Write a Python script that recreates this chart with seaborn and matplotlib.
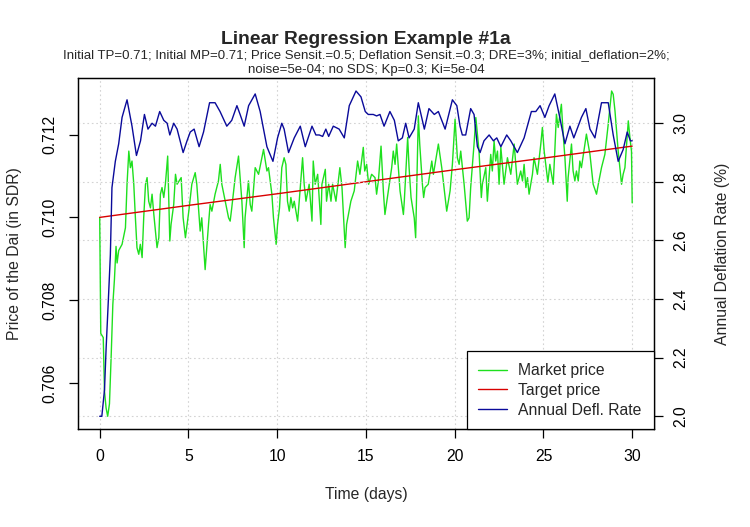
import matplotlib
matplotlib.use("Agg")
import matplotlib.pyplot as plt
import seaborn as sns
import pandas as pd

sns.set_style("ticks")
plt.rcParams['font.family'] = ['Liberation Sans', 'DejaVu Sans']

# ---------------- data ----------------
market_days = [
    0.00, 0.06, 0.20, 0.27, 0.36, 0.45, 0.55, 0.65, 0.74, 0.83,
    0.92, 0.98, 1.07, 1.26, 1.45, 1.54, 1.64, 1.73, 1.82, 1.92,
    2.01, 2.10, 2.20, 2.29, 2.39, 2.48, 2.58, 2.67, 2.76, 2.86,
    2.95, 3.05, 3.14, 3.23, 3.33, 3.42, 3.51, 3.61, 3.70, 3.83,
    3.95, 4.02, 4.17, 4.27, 4.36, 4.59, 4.70, 4.83, 5.02, 5.19,
    5.38, 5.47, 5.66, 5.75, 5.94, 6.13, 6.22, 6.32, 6.50, 6.69,
    6.79, 6.88, 7.07, 7.26, 7.35, 7.44, 7.63, 7.82, 7.91, 8.01,
    8.14, 8.19, 8.38, 8.48, 8.57, 8.76, 8.95, 9.23, 9.42, 9.51,
    9.70, 9.79, 9.94, 10.02, 10.13, 10.26, 10.39, 10.49, 10.58, 10.68,
    10.77, 10.87, 10.96, 11.15, 11.24, 11.43, 11.52, 11.62, 11.80, 11.96,
    12.03, 12.14, 12.28, 12.46, 12.52, 12.71, 12.78, 12.90, 13.03, 13.12,
    13.31, 13.53, 13.65, 13.83, 13.91, 14.15, 14.34, 14.53, 14.66, 14.85,
    14.93, 15.04, 15.15, 15.32, 15.51, 15.60, 15.70, 15.85, 15.98, 16.07,
    16.26, 16.45, 16.54, 16.64, 16.73, 16.92, 17.11, 17.16, 17.35, 17.43,
    17.54, 17.72, 17.80, 17.88, 17.95, 18.03, 18.18, 18.25, 18.33, 18.51,
    18.71, 18.80, 19.08, 19.27, 19.55, 19.74, 19.87, 20.02, 20.15, 20.25,
    20.34, 20.53, 20.71, 20.81, 20.90, 21.09, 21.19, 21.28, 21.37, 21.50,
    21.56, 21.75, 21.84, 22.03, 22.12, 22.22, 22.31, 22.41, 22.50, 22.60,
    22.78, 22.97, 23.16, 23.35, 23.53, 23.72, 23.82, 23.91, 24.01, 24.10,
    24.19, 24.38, 24.47, 24.66, 24.85, 24.94, 25.04, 25.13, 25.25, 25.36,
    25.55, 25.64, 25.73, 25.83, 26.01, 26.11, 26.21, 26.34, 26.39, 26.58,
    26.67, 26.77, 26.86, 26.96, 27.05, 27.14, 27.42, 27.62, 27.80, 27.99,
    28.09, 28.27, 28.46, 28.65, 28.84, 28.93, 29.03, 29.21, 29.40, 29.49,
    29.59, 29.78, 29.87, 29.96, 30.00,
]
market_price = [
    0.71000, 0.70720, 0.70710, 0.70580, 0.70540, 0.70520, 0.70550, 0.70670, 0.70790, 0.70850,
    0.70930, 0.70890, 0.70920, 0.70935, 0.70975, 0.71080, 0.71160, 0.71120, 0.71136, 0.71080,
    0.71000, 0.70927, 0.70911, 0.70935, 0.70903, 0.71000, 0.71080, 0.71096, 0.71039, 0.71023,
    0.71056, 0.71007, 0.70967, 0.70927, 0.70951, 0.71056, 0.71072, 0.71048, 0.71080, 0.71148,
    0.70943, 0.70983, 0.71031, 0.71104, 0.71080, 0.71096, 0.70999, 0.70951, 0.71015, 0.71080,
    0.71108, 0.71080, 0.70967, 0.70999, 0.70874, 0.70983, 0.71031, 0.71015, 0.71056, 0.71088,
    0.71128, 0.71080, 0.71039, 0.70999, 0.70991, 0.71023, 0.71096, 0.71148, 0.71096, 0.71039,
    0.70927, 0.70999, 0.71088, 0.71031, 0.71015, 0.71120, 0.71104, 0.71164, 0.71112, 0.71120,
    0.71056, 0.70999, 0.70935, 0.70983, 0.71023, 0.71120, 0.71144, 0.71128, 0.71039, 0.71015,
    0.71048, 0.71023, 0.71039, 0.70991, 0.71039, 0.71144, 0.71080, 0.71039, 0.71080, 0.70991,
    0.71136, 0.71080, 0.71104, 0.70983, 0.71080, 0.71116, 0.71039, 0.71080, 0.71039, 0.71080,
    0.71039, 0.71120, 0.71072, 0.70927, 0.70983, 0.71039, 0.71064, 0.71136, 0.71104, 0.71169,
    0.71112, 0.71128, 0.71080, 0.71104, 0.71096, 0.71056, 0.71088, 0.71172, 0.71064, 0.71007,
    0.71064, 0.71120, 0.71160, 0.71128, 0.71177, 0.71064, 0.71007, 0.71039, 0.71193, 0.71120,
    0.71048, 0.70999, 0.70951, 0.71112, 0.71245, 0.71177, 0.71080, 0.71048, 0.71072, 0.71080,
    0.71136, 0.71104, 0.71177, 0.71120, 0.71015, 0.71064, 0.71128, 0.71237, 0.71144, 0.71128,
    0.71160, 0.71080, 0.70991, 0.70999, 0.71072, 0.71177, 0.71241, 0.71201, 0.71160, 0.71048,
    0.71080, 0.71120, 0.71039, 0.71152, 0.71112, 0.71184, 0.71136, 0.71160, 0.71080, 0.71169,
    0.71080, 0.71144, 0.71104, 0.71177, 0.71080, 0.71112, 0.71088, 0.71128, 0.71072, 0.71096,
    0.71056, 0.71104, 0.71144, 0.71104, 0.71177, 0.71217, 0.71160, 0.71128, 0.71085, 0.71128,
    0.71080, 0.71160, 0.71249, 0.71217, 0.71273, 0.71201, 0.71144, 0.71039, 0.71096, 0.71177,
    0.71112, 0.71088, 0.71112, 0.71088, 0.71136, 0.71120, 0.71201, 0.71152, 0.71080, 0.71056,
    0.71080, 0.71120, 0.71152, 0.71225, 0.71305, 0.71297, 0.71257, 0.71160, 0.71080, 0.71104,
    0.71120, 0.71233, 0.71193, 0.71160, 0.71035,
]

target_days = [0, 5, 10, 15, 20, 25, 30]
target_price = [0.71000, 0.71029, 0.71057, 0.71086, 0.71115, 0.71143, 0.71172]

defl_days = [
    0.00, 0.12, 0.27, 0.36, 0.49, 0.60, 0.69, 0.88, 1.07, 1.26,
    1.54, 1.82, 2.07, 2.30, 2.52, 2.72, 2.95, 3.14, 3.38, 3.61,
    3.80, 3.95, 4.17, 4.36, 4.70, 4.92, 5.10, 5.32, 5.60, 5.85,
    6.19, 6.50, 6.78, 7.16, 7.44, 7.73, 7.91, 8.14, 8.39, 8.76,
    9.04, 9.42, 9.76, 10.02, 10.26, 10.39, 10.64, 10.96, 11.30, 11.58,
    11.96, 12.18, 12.37, 12.56, 12.74, 12.90, 13.16, 13.49, 13.78, 14.06,
    14.44, 14.72, 14.96, 15.13, 15.41, 15.60, 15.79, 16.02, 16.35, 16.60,
    16.82, 17.05, 17.24, 17.43, 17.72, 17.95, 18.14, 18.29, 18.55, 18.85,
    19.08, 19.46, 19.87, 20.12, 20.30, 20.43, 20.62, 20.90, 21.09, 21.28,
    21.43, 21.65, 21.94, 22.18, 22.37, 22.60, 22.93, 23.16, 23.53, 23.91,
    24.32, 24.57, 24.81, 25.08, 25.32, 25.64, 25.92, 26.21, 26.49, 26.71,
    27.14, 27.39, 27.62, 27.90, 28.27, 28.65, 28.93, 29.21, 29.49, 29.72,
    29.90, 30.00,
]
defl_rate = [
    2.00, 2.00, 2.09, 2.23, 2.40, 2.55, 2.78, 2.87, 2.93, 3.02,
    3.08, 2.99, 2.89, 2.94, 3.03, 2.98, 3.00, 2.99, 3.04, 3.01,
    3.00, 2.96, 3.00, 2.98, 2.90, 2.94, 2.97, 2.98, 2.92, 2.97,
    3.07, 3.07, 3.04, 2.99, 3.01, 3.06, 3.03, 2.99, 3.06, 3.10,
    3.04, 2.92, 2.87, 2.95, 3.00, 2.98, 2.90, 2.95, 2.99, 2.92,
    2.99, 2.96, 2.96, 2.955, 2.98, 2.955, 2.99, 2.98, 2.95, 3.06,
    3.11, 3.09, 3.04, 3.03, 3.03, 3.025, 3.03, 2.99, 3.04, 3.01,
    2.94, 2.95, 3.00, 2.95, 2.98, 3.07, 3.02, 2.98, 3.05, 3.03,
    3.04, 2.98, 3.08, 3.06, 2.99, 2.96, 2.96, 3.05, 3.03, 2.92,
    2.90, 2.94, 2.96, 2.94, 2.95, 2.92, 2.96, 2.94, 2.90, 2.95,
    3.04, 3.04, 3.06, 3.02, 3.06, 3.10, 3.02, 2.93, 2.99, 2.95,
    3.02, 3.05, 2.98, 2.95, 3.07, 3.07, 2.96, 2.87, 2.91, 2.97,
    2.94, 2.94,
]

x_ticks = [0, 5, 10, 15, 20, 25, 30]
left_ticks = [0.706, 0.708, 0.710, 0.712]
right_ticks = [2.0, 2.2, 2.4, 2.6, 2.8, 3.0]

title = "Linear Regression Example #1a"
subtitle1 = ("Initial TP=0.71; Initial MP=0.71; Price Sensit.=0.5; Deflation Sensit.=0.3; "
             "DRE=3%; initial_deflation=2%;")
subtitle2 = "noise=5e-04; no SDS; Kp=0.3; Ki=5e-04"
legend_labels = ["Market price", "Target price", "Annual Defl. Rate"]

# ---------------- style ----------------
GREEN = "#1EE01E"
RED = "#D80000"
BLUE = "#0A0A9A"
GRID = "#D3D3D3"
FS = 11.3  # ~16 px at 100 dpi


def rlim(v):
    lo, hi = min(v), max(v)
    p = 0.04 * (hi - lo)
    return lo - p, hi + p


W, H = 750, 527
fig = plt.figure(figsize=(W / 100, H / 100), dpi=100)
L, R_, T, B = 78.4, 653.5, 78.0, 429.3
ax = fig.add_axes([L / W, 1 - B / H, (R_ - L) / W, (B - T) / H])

mdf = pd.DataFrame({"day": market_days, "price": market_price})
tdf = pd.DataFrame({"day": target_days, "price": target_price})
ddf = pd.DataFrame({"day": defl_days, "rate": defl_rate})

sns.lineplot(data=mdf, x="day", y="price", ax=ax, color=GREEN, lw=1.0,
             estimator=None, sort=False, label=legend_labels[0])
sns.lineplot(data=tdf, x="day", y="price", ax=ax, color=RED, lw=1.0,
             estimator=None, sort=False, label=legend_labels[1])
ax.set_xlim(*rlim(market_days))
ax.set_ylim(*rlim(market_price + target_price))

ax2 = ax.twinx()
sns.lineplot(data=ddf, x="day", y="rate", ax=ax2, color=BLUE, lw=1.0,
             estimator=None, sort=False, label=legend_labels[2])
ax2.set_ylim(*rlim(defl_rate))

for a in (ax, ax2):
    if a.get_legend() is not None:
        a.get_legend().remove()
    a.set_xlabel("")
    a.set_ylabel("")
    for s in a.spines.values():
        s.set_visible(True)
        s.set_color("black")
        s.set_linewidth(0.9)

ax.set_xticks(x_ticks)
ax.set_xticklabels([str(t) for t in x_ticks])
ax.set_yticks(left_ticks)
ax.set_yticklabels([f"{t:.3f}" for t in left_ticks])
ax2.set_yticks(right_ticks)
ax2.set_yticklabels([f"{t:.1f}" for t in right_ticks])

ax.tick_params(axis="x", direction="out", length=6.5, width=0.9, pad=7.5,
               labelsize=FS, colors="black")
ax.tick_params(axis="y", direction="out", length=6.5, width=0.9, pad=8.5,
               labelsize=FS, colors="black", labelrotation=90)
ax2.tick_params(axis="y", direction="out", length=6.5, width=0.9, pad=8.0,
                labelsize=FS, colors="black", labelrotation=90)
for lab in ax.get_yticklabels() + ax2.get_yticklabels():
    lab.set_va("center")

# grid: vertical at x ticks, horizontal at right-axis ticks (drawn on top, like R's grid())
ax.set_axisbelow(True)
ax.xaxis.grid(True, color=GRID, linestyle=(0, (1.5, 2.5)), lw=0.8)
ax.yaxis.grid(False)
ax2.yaxis.grid(True, color=GRID, linestyle=(0, (1.5, 2.5)), lw=0.8)
ax2.xaxis.grid(False)

h1, l1 = ax.get_legend_handles_labels()
h2, l2 = ax2.get_legend_handles_labels()
leg = ax2.legend(h1 + h2, l1 + l2, loc="lower right", bbox_to_anchor=(1, 0),
                 borderaxespad=0, fontsize=FS, frameon=True, fancybox=False,
                 framealpha=1, edgecolor="black", handlelength=1.85,
                 handletextpad=0.7, labelspacing=0.3, borderpad=0.75)
leg.get_frame().set_linewidth(0.9)

cx = ((L + R_) / 2) / W
fig.text(cx, 1 - 40 / H, title, ha="center", va="center", fontsize=13.9,
         fontweight="bold")
fig.text(cx, 1 - 55.5 / H, subtitle1, ha="center", va="center", fontsize=9.5)
fig.text(cx, 1 - 70.5 / H, subtitle2, ha="center", va="center", fontsize=9.5)
fig.text(cx, 1 - 495 / H, "Time (days)", ha="center", va="center", fontsize=FS)
fig.text(15 / W, 1 - ((T + B) / 2) / H, "Price of the Dai (in SDR)", rotation=90,
         ha="center", va="center", fontsize=FS)
fig.text(722 / W, 1 - ((T + B) / 2) / H, "Annual Deflation Rate (%)", rotation=90,
         ha="center", va="center", fontsize=FS)

fig.savefig("out.png", dpi=100, facecolor="white")
